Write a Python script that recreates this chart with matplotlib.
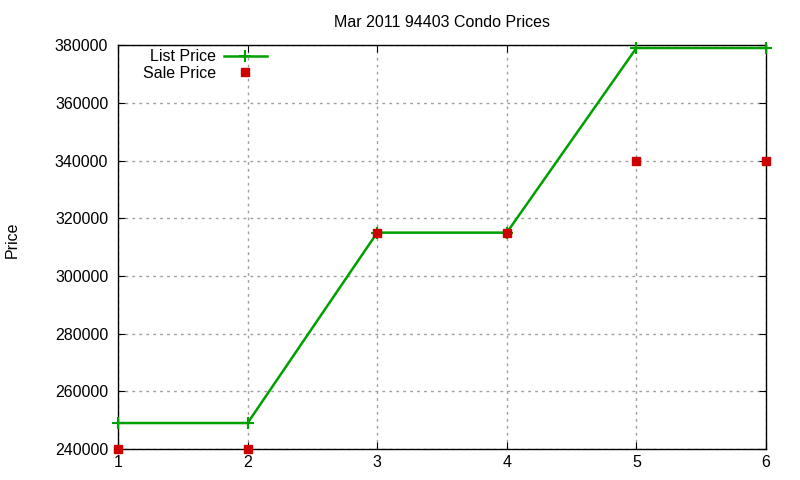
import matplotlib
matplotlib.use("Agg")
import matplotlib.pyplot as plt

months = [1, 2, 3, 4, 5, 6]
list_price = [249000, 249000, 315000, 315000, 379000, 379000]
sale_price = [240000, 240000, 315000, 315000, 340000, 340000]
yticks = [240000, 260000, 280000, 300000, 320000, 340000, 360000, 380000]

plt.rcParams['font.family'] = ['Liberation Sans', 'DejaVu Sans']
fig = plt.figure(figsize=(8, 4.8), dpi=100)
ax = fig.add_axes([0.1475, 0.0646, 0.81, 0.8414])

ax.plot(months, list_price, color='#00a000', lw=1.8, marker='+', ms=8, mew=1.5,
        label='List Price', clip_on=False, zorder=3)
ax.plot(months, sale_price, color='#cc0000', ls='none', marker='s', ms=6,
        label='Sale Price', clip_on=False, zorder=4)

ax.set_xlim(1, 6)
ax.set_ylim(240000, 380000)
ax.set_xticks(months)
ax.set_yticks(yticks)
ax.tick_params(direction='in', top=True, right=True, labelsize=11.5, length=5)
ax.tick_params(axis='y', pad=7)
ax.tick_params(axis='x', pad=4)
ax.grid(True, color='#a0a0a0', ls=(0, (2, 3)), lw=1)
for s in ax.spines.values():
    s.set_linewidth(1)
ax.set_title('Mar 2011 94403 Condo Prices', fontsize=11.5, pad=13)
fig.text(0.015, 0.5, 'Price', rotation=90, va='center', ha='center', fontsize=11.5)

leg = ax.legend(loc='upper right', bbox_to_anchor=(0.23, 0.99), frameon=False,
                markerfirst=False, fontsize=11.5, handlelength=2.7,
                borderaxespad=0, borderpad=0, labelspacing=0.1, handletextpad=0.5)
for t in leg.get_texts():
    t.set_ha('right')
leg._legend_box.align = 'right'

fig.savefig('out.png', dpi=100)
